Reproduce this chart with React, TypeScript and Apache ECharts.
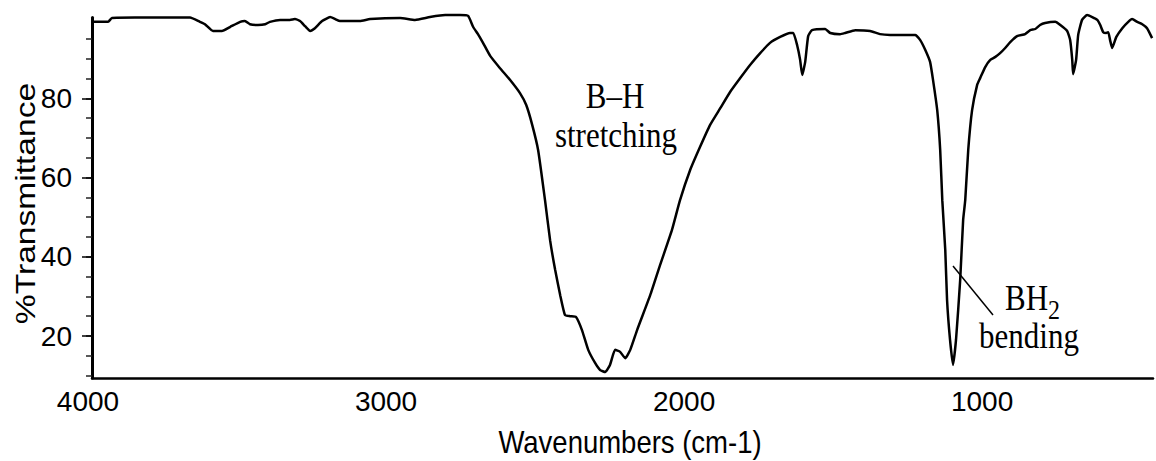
import { useEffect, useRef } from "react";
import * as echarts from "echarts";

// IR spectrum: wavenumber (cm-1) against % transmittance
const wavenumber = [
  4000, 3946, 3933, 3856, 3671, 3638, 3621, 3594, 3564, 3537, 3503, 3487, 3470, 3443, 3419, 3403,
  3369, 3336, 3319, 3302, 3285, 3268, 3252, 3228, 3201, 3184, 3168, 3101, 3067, 2966, 2916, 2866,
  2815, 2765, 2738, 2721, 2705, 2688, 2664, 2631, 2597, 2564, 2543, 2523, 2503, 2480, 2463, 2446,
  2429, 2413, 2396, 2376, 2356, 2335, 2312, 2295, 2278, 2262, 2245, 2228, 2211, 2194, 2171, 2127,
  2094, 2054, 2027, 1993, 1960, 1926, 1892, 1859, 1825, 1792, 1758, 1725, 1691, 1658, 1647, 1634,
  1624, 1617, 1607, 1597, 1584, 1540, 1523, 1490, 1473, 1439, 1389, 1356, 1322, 1238, 1221, 1204,
  1188, 1178, 1164, 1154, 1147, 1137, 1131, 1121, 1111, 1101, 1087, 1077, 1070, 1060, 1047, 1030,
  1020, 1003, 986, 970, 953, 936, 919, 896, 869, 852, 835, 819, 802, 768, 751, 728, 718, 711, 708,
  698, 691, 678, 661, 644, 627, 617, 607, 597, 590, 584, 577, 563, 543, 523, 510, 493, 476, 460, 443,
];
const transmittance = [
  99.3, 99.3, 100.3, 100.4, 100.4, 99.3, 98.7, 97.0, 97.0, 98.0, 99.3, 99.5, 98.7, 98.5, 98.7, 99.3,
  99.8, 99.8, 100.0, 99.5, 98.2, 97.0, 97.7, 99.5, 100.5, 100.0, 99.5, 99.5, 100.0, 100.3, 99.8, 100.5,
  101.0, 101.0, 100.8, 98.0, 96.2, 94.0, 90.7, 87.6, 84.6, 81.3, 78.3, 73.3, 66.9, 54.3, 44.2, 36.7,
  30.3, 25.3, 25.0, 24.8, 21.5, 16.5, 13.2, 11.4, 10.9, 12.7, 16.5, 16.0, 14.4, 16.5, 21.5, 30.3,
  37.9, 46.8, 54.3, 61.9, 67.7, 73.3, 77.5, 81.6, 85.1, 88.4, 91.4, 94.0, 95.5, 96.5, 96.5, 93.4,
  89.7, 85.9, 89.2, 95.7, 97.2, 97.5, 96.5, 96.2, 96.5, 97.2, 97.0, 96.2, 96.0, 96.0, 94.7, 92.2,
  89.2, 84.6, 77.0, 66.9, 54.3, 41.7, 29.1, 19.0, 12.7, 19.0, 34.1, 49.3, 54.3, 66.9, 77.0, 83.4,
  85.1, 87.9, 89.7, 90.4, 91.4, 92.7, 94.2, 95.7, 96.2, 97.2, 97.5, 98.5, 99.0, 99.3, 98.5, 97.0, 94.7, 89.7, 86.1,
  89.7, 96.0, 99.8, 101.0, 100.5, 99.8, 98.5, 96.7, 96.5, 96.7, 94.7, 92.7, 95.5, 97.7, 99.3, 100.0, 99.3, 98.7, 97.7, 95.2,
];

const xLabelValues = [4000, 3000, 2000, 1000];
const yLabelValues = [20, 40, 60, 80];
const yMinorValues = [10, 15, 20, 25, 30, 35, 40, 45, 50, 55, 60, 65, 70, 75, 80, 85, 90, 95];

const X_MIN = 440;
const X_MAX = 4000;
const Y_MIN = 9.4;
const Y_MAX = 100.4;

const stretchLabel = "B–H";
const stretchNote = "stretching";
const bendLabel = "BH";
const bendSub = "2";
const bendNote = "bending";

const SANS = "'Liberation Sans', Arial, Helvetica, sans-serif";
const SERIF = "'Liberation Serif', 'Times New Roman', Times, serif";

function txt(text: string, x: number, y: number, size: number, family: string, align: string, extra: any = {}) {
  return {
    type: "text",
    x,
    y,
    scaleY: 1.18,
    ...extra,
    style: {
      text,
      fontSize: size,
      fontFamily: family,
      fill: "#000",
      align,
      verticalAlign: "middle",
      textAlign: align,
      textVerticalAlign: "middle",
    },
  };
}

export default function App() {
  const ref = useRef<HTMLDivElement>(null);

  useEffect(() => {
    if (!ref.current) return;
    const chart = echarts.init(ref.current, null, { renderer: "svg" });
    const axisFont = { fontSize: 28, color: "#000", fontFamily: SANS };

    chart.setOption({
      animation: false,
      backgroundColor: "#ffffff",
      grid: { left: 92, right: 3, top: 17.5, bottom: 83 },
      xAxis: {
        type: "value",
        inverse: true,
        min: X_MIN,
        max: X_MAX,
        axisLine: { show: true, lineStyle: { color: "#000", width: 2.5 } },
        axisTick: { show: false },
        splitLine: { show: false },
        axisLabel: {
          ...axisFont,
          customValues: xLabelValues,
          margin: 9,
          padding: [0, 8, 0, 0],
          formatter: (v: number) => String(v),
        },
      },
      yAxis: [
        {
          type: "value",
          min: Y_MIN,
          max: Y_MAX,
          axisLine: { show: true, lineStyle: { color: "#000", width: 3 } },
          axisTick: { show: true, customValues: yMinorValues, length: 6, lineStyle: { color: "#222", width: 1.5 } },
          axisLabel: { ...axisFont, customValues: yLabelValues, margin: 20, formatter: (v: number) => String(v) },
          splitLine: { show: false },
        },
        {
          type: "value",
          position: "left",
          min: Y_MIN,
          max: Y_MAX,
          axisLine: { show: false },
          axisTick: { show: true, customValues: yLabelValues, length: 10, lineStyle: { color: "#000", width: 1.5 } },
          axisLabel: { show: false },
          splitLine: { show: false },
        },
      ],
      series: [
        {
          type: "line",
          xAxisIndex: 0,
          yAxisIndex: 0,
          data: wavenumber.map((w, i) => [w, transmittance[i]]),
          symbol: "none",
          smooth: 0.15,
          clip: false,
          lineStyle: { color: "#000", width: 2.5 },
        },
      ],
      graphic: [
        txt("%Transmittance", 25, 203.5, 28, SANS, "center", { rotation: Math.PI / 2, scaleY: 1, scaleX: 1.2 }),
        txt("Wavenumbers (cm-1)", 630, 442, 27.5, SANS, "center", { scaleY: 1.16 }),
        txt(stretchLabel, 615, 95.5, 31, SERIF, "center"),
        txt(stretchNote, 616, 134.5, 31, SERIF, "center"),
        txt(bendLabel, 1005, 297.5, 31, SERIF, "left"),
        txt(bendSub, 1048, 310, 24, SERIF, "left"),
        txt(bendNote, 1029, 335.5, 31, SERIF, "center"),
        {
          type: "line",
          shape: { x1: 953, y1: 266, x2: 993, y2: 315 },
          style: { stroke: "#000", lineWidth: 1.5 },
        },
      ],
    });

    return () => chart.dispose();
  }, []);

  return <div ref={ref} style={{ position: "fixed", left: 0, top: 0, width: 1156, height: 461 }} />;
}
